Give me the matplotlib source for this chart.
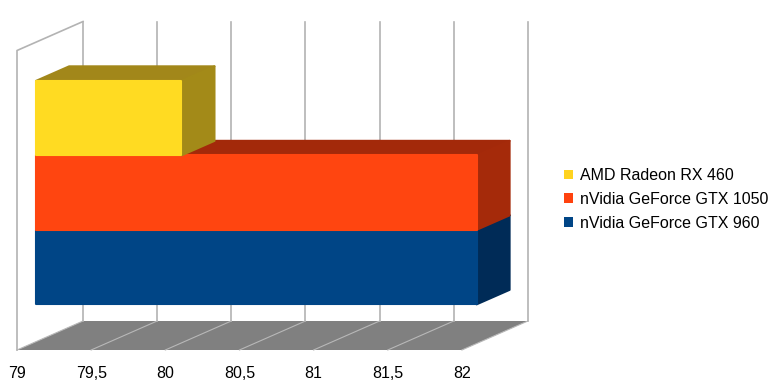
import matplotlib
matplotlib.use("Agg")
import matplotlib.pyplot as plt
from matplotlib.patches import Polygon, Patch

plt.rcParams['font.family'] = ['Liberation Sans', 'DejaVu Sans']

# data
series = ["nVidia GeForce GTX 960", "nVidia GeForce GTX 1050", "AMD Radeon RX 460"]
values = [81.97, 81.97, 79.98]
front_colors = ["#004586", "#ff4510", "#ffdb22"]
side_colors = ["#002b57", "#a52a0a", "#a38a18"]
top_colors = ["#003a70", "#a3290a", "#a2871a"]
legend_colors = ["#004586", "#ff420e", "#ffd320"]
ticks = [79, 79.5, 80, 80.5, 81, 81.5, 82]
vmin, vmax = 79, 82

# pseudo-3d layout (oblique projection)
px_per_unit = 148.3      # pixels per value unit
bar_px = 74.5            # pixels per bar thickness
depth_dx = 66 / px_per_unit
depth_dy = 29 / bar_px
bar_d0, bar_d1 = 0.29, 0.79
bar_base = 0.5
wall_h = 4.02


def proj(v, y, d):
    return (v + d * depth_dx, y + d * depth_dy)


W, H = 784, 391
fig = plt.figure(figsize=(W / 100, H / 100), dpi=100)
ax = fig.add_axes([0, 0, 1, 1])
x0 = vmin - 17 / px_per_unit
ax.set_xlim(x0, x0 + W / px_per_unit)
ax.set_ylim(-(H - 350) / bar_px, 350 / bar_px)
ax.axis("off")

grid_c = "#b3b3b3"

# floor
floor = [proj(vmin, 0, 0), proj(vmax, 0, 0), proj(vmax, 0, 1), proj(vmin, 0, 1)]
ax.add_patch(Polygon(floor, closed=True, facecolor="#808080", edgecolor="none", zorder=1))
for t in ticks:
    p, q = proj(t, 0, 0), proj(t, 0, 1)
    ax.plot([p[0], q[0]], [p[1], q[1]], color="#b8b8b8", lw=0.8, zorder=2)
    # back wall grid
    a, b = proj(t, 0, 1), proj(t, wall_h, 1)
    ax.plot([a[0], b[0]], [a[1], b[1]], color=grid_c, lw=1.2, zorder=2)

# left wall outline
pts = [proj(vmin, 0, 0), proj(vmin, wall_h, 0), proj(vmin, wall_h, 1)]
ax.plot([p[0] for p in pts], [p[1] for p in pts], color=grid_c, lw=1.2, zorder=2)

# bars, bottom to top
for i, (v, fc, sc, tc) in enumerate(zip(values, front_colors, side_colors, top_colors)):
    y0, y1 = bar_base + i, bar_base + i + 1
    front = [proj(vmin, y0, bar_d0), proj(v, y0, bar_d0), proj(v, y1, bar_d0), proj(vmin, y1, bar_d0)]
    top = [proj(vmin, y1, bar_d0), proj(v, y1, bar_d0), proj(v, y1, bar_d1), proj(vmin, y1, bar_d1)]
    side = [proj(v, y0, bar_d0), proj(v, y0, bar_d1), proj(v, y1, bar_d1), proj(v, y1, bar_d0)]
    z = 3 + i
    ax.add_patch(Polygon(top, closed=True, facecolor=tc, edgecolor=tc, lw=1.5, joinstyle="round", zorder=z))
    ax.add_patch(Polygon(side, closed=True, facecolor=sc, edgecolor=sc, lw=1.5, joinstyle="round", zorder=z))
    ax.add_patch(Polygon(front, closed=True, facecolor=fc, edgecolor=fc, lw=1.5, joinstyle="round", zorder=z + 0.1))

# tick labels under the floor
for t in ticks:
    lab = f"{t:g}".replace(".", ",")
    ax.text(t, -23 / bar_px, lab, ha="center", va="center", fontsize=11.5, color="black")

# legend (top entry first)
handles = [Patch(facecolor=c, edgecolor="none") for c in legend_colors[::-1]]
fig.legend(handles, series[::-1], loc="upper left", bbox_to_anchor=(564 / W, 1 - 168 / H),
           frameon=False, fontsize=11.5, handlelength=0.55, handleheight=0.55,
           handletextpad=0.45, labelspacing=0.56, borderaxespad=0, borderpad=0)

fig.savefig("out.png", dpi=100, facecolor="white")
